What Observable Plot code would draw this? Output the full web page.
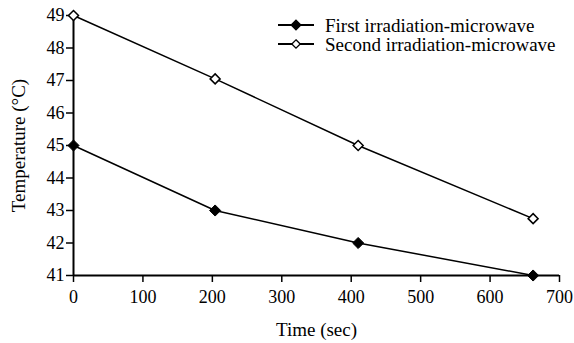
<!DOCTYPE html>
<html>
<head>
<meta charset="utf-8">
<script src="https://cdn.jsdelivr.net/npm/d3@7"></script>
<script src="https://cdn.jsdelivr.net/npm/@observablehq/plot@0.6"></script>
<style>
  html, body { margin: 0; padding: 0; background: #fff; }
  #chart { width: 574px; height: 343px; }
</style>
</head>
<body>
<div id="chart"></div>
<script>
const times = [0, 204, 410, 662];
const firstTemps = [45, 43, 42, 41];
const secondTemps = [49, 47.05, 45, 42.75];
const seriesNames = ["First irradiation-microwave", "Second irradiation-microwave"];
const xTicks = [0, 100, 200, 300, 400, 500, 600, 700];
const yTicks = [41, 42, 43, 44, 45, 46, 47, 48, 49];

const first = times.map((t, i) => ({t, v: firstTemps[i]}));
const second = times.map((t, i) => ({t, v: secondTemps[i]}));

const font = "'Liberation Serif', 'Times New Roman', serif";

const plot = Plot.plot({
  width: 574,
  height: 343,
  marginLeft: 73,
  marginRight: 15,
  marginTop: 15,
  marginBottom: 68,
  style: {fontFamily: font, fontSize: "18px", color: "#000", background: "#fff"},
  x: {domain: [0, 700], label: null},
  y: {domain: [41, 49], label: null},
  marks: [
    Plot.axisX({ticks: xTicks, tickSize: 7, tickPadding: 8, fontSize: 18, strokeWidth: 1.5, label: null}),
    Plot.axisY({ticks: yTicks, tickSize: 7, tickPadding: 2, fontSize: 18, strokeWidth: 1.5, label: null}),
    Plot.ruleX([0], {stroke: "#000", strokeWidth: 2}),
    Plot.ruleY([41], {stroke: "#000", strokeWidth: 2}),
    Plot.line(first, {x: "t", y: "v", stroke: "#000", strokeWidth: 1.5}),
    Plot.line(second, {x: "t", y: "v", stroke: "#000", strokeWidth: 1.5}),
    Plot.dot(first, {x: "t", y: "v", symbol: "diamond2", r: 5, fill: "#000", stroke: "#000", strokeWidth: 1}),
    Plot.dot(second, {x: "t", y: "v", symbol: "diamond2", r: 4.5, fill: "#fff", stroke: "#000", strokeWidth: 1.5}),
    Plot.text(["Time (sec)"], {frameAnchor: "bottom", dy: 60, fontSize: 19, fill: "#000"}),
    Plot.text(["Temperature (°C)"], {frameAnchor: "left", textAnchor: "middle", dx: -55, rotate: -90, fontSize: 19, fill: "#000"})
  ]
});

document.getElementById("chart").appendChild(plot);

// Legend drawn into the SVG
const svg = d3.select(plot);
const legend = svg.append("g").attr("font-family", font).attr("font-size", 19).attr("text-anchor", "start");
const rows = [
  {name: seriesNames[0], fill: "#000", y: 25},
  {name: seriesNames[1], fill: "#fff", y: 44}
];
rows.forEach(r => {
  const g = legend.append("g").attr("transform", `translate(0,${r.y})`);
  g.append("line").attr("x1", 278).attr("x2", 314).attr("y1", 0).attr("y2", 0)
    .attr("stroke", "#000").attr("stroke-width", 2);
  g.append("path").attr("d", d3.symbol(d3.symbolDiamond2, r.fill === "#000" ? 60 : 45)())
    .attr("transform", "translate(296,0)")
    .attr("fill", r.fill).attr("stroke", "#000").attr("stroke-width", 1.3);
  g.append("text").attr("x", 325).attr("y", 0).attr("dy", "0.35em").attr("fill", "#000").text(r.name);
});
</script>
</body>
</html>
